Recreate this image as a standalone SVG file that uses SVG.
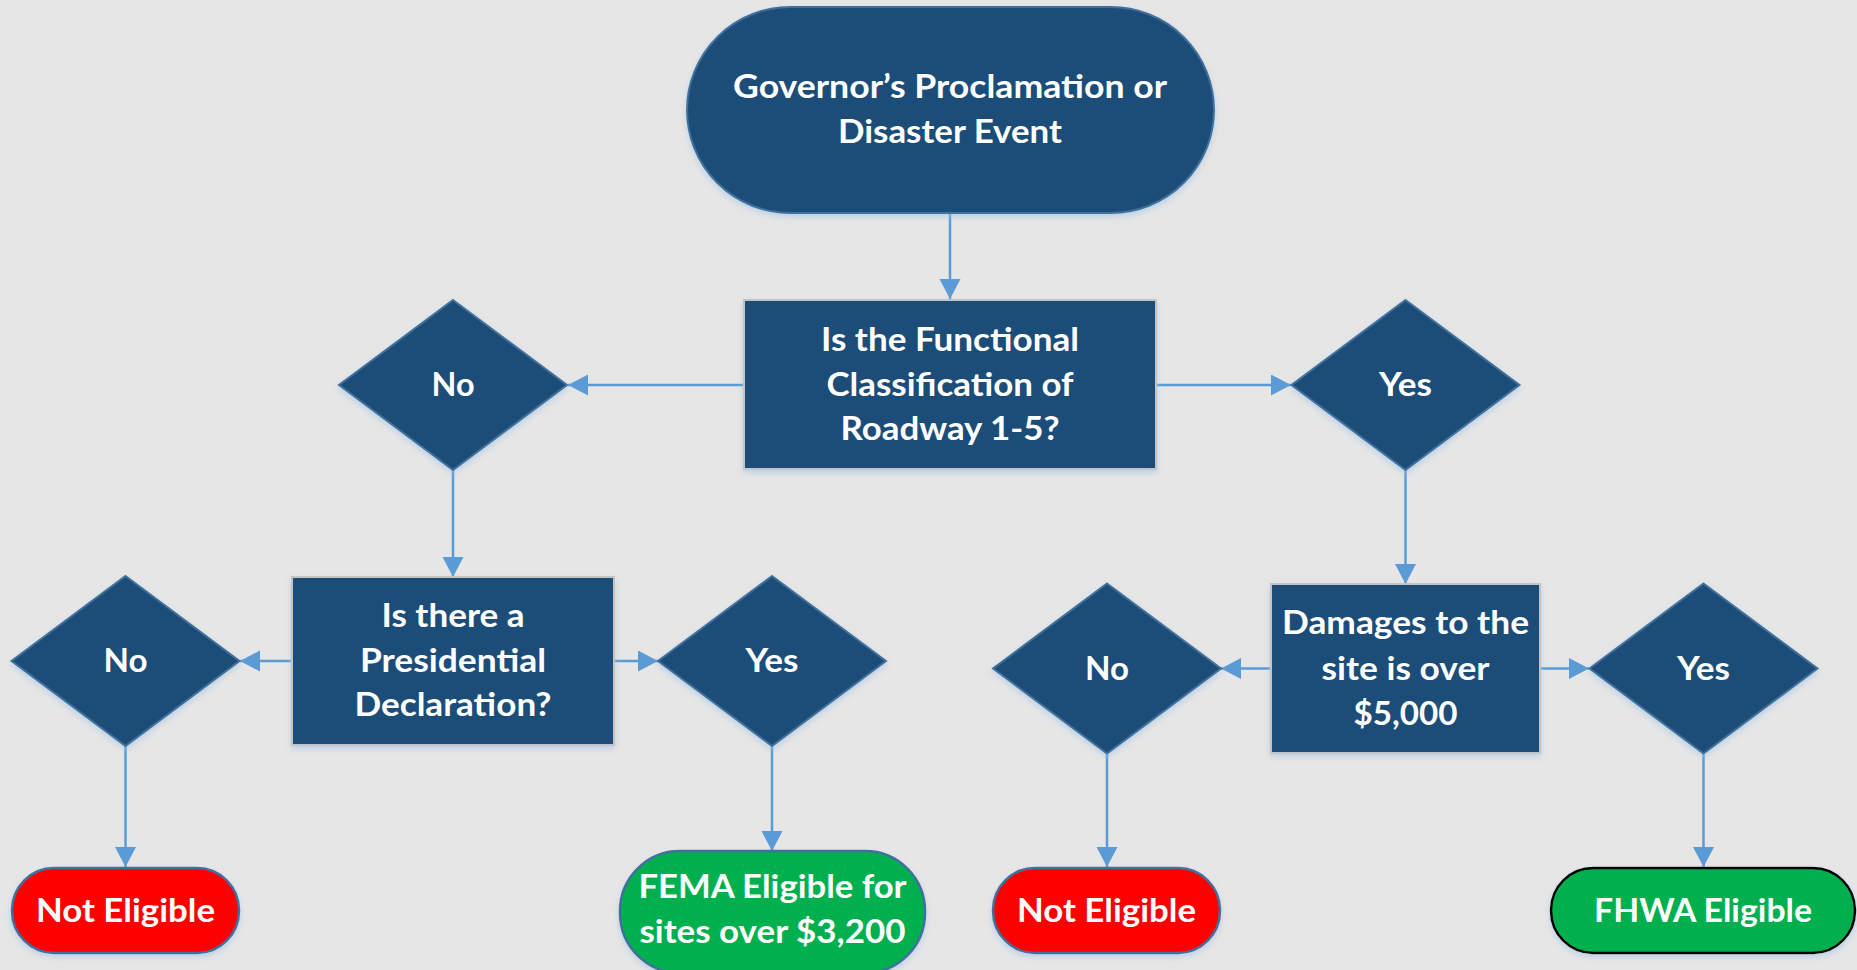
<svg xmlns="http://www.w3.org/2000/svg" width="1857" height="970" viewBox="0 0 1857 970">
<defs>
<style>
.node{fill:#1f4e79;stroke:#41719c;stroke-width:2;filter:url(#sh)}
.box{fill:#1f4e79;stroke:#c4c4c4;stroke-width:2;filter:url(#sh)}
.red{fill:#ff0000;stroke:#41719c;stroke-width:2.5;filter:url(#sh)}
.green{fill:#00b050;stroke:#41719c;stroke-width:2.5;filter:url(#sh)}
.greenb{fill:#00b050;stroke:#000;stroke-width:2.5;filter:url(#sh)}
.t{font-family:"Lato","Open Sans","Liberation Sans",sans-serif;font-weight:700;font-size:32px;fill:#fff;text-anchor:middle}
.c{stroke:#5b9bd5;stroke-width:2.5;fill:none;marker-end:url(#ah)}
</style>
<marker id="ah" markerUnits="userSpaceOnUse" markerWidth="22" markerHeight="22" refX="20" refY="10.5" orient="auto">
<path d="M0,0 L20,10.5 L0,21 Z" fill="#5b9bd5"/>
</marker>
<filter id="sh" x="-10%" y="-10%" width="120%" height="130%">
<feDropShadow dx="0" dy="3" stdDeviation="3" flood-color="#9dc3e6" flood-opacity="0.6"/>
</filter>
</defs>
<rect x="0" y="0" width="1857" height="970" fill="#e7e6e6"/>
<g id="connectors">
<line class="c" x1="950" y1="213" x2="950" y2="299"/>
<line class="c" x1="744" y1="385" x2="568" y2="385"/>
<line class="c" x1="1156" y1="385" x2="1291" y2="385"/>
<line class="c" x1="1405.5" y1="470" x2="1405.5" y2="584"/>
<line class="c" x1="453" y1="470" x2="453" y2="577"/>
<line class="c" x1="292" y1="661" x2="240" y2="661"/>
<line class="c" x1="614" y1="661" x2="658" y2="661"/>
<line class="c" x1="125.5" y1="746" x2="125.5" y2="867"/>
<line class="c" x1="772" y1="746" x2="772" y2="851"/>
<line class="c" x1="1271" y1="668.5" x2="1221" y2="668.5"/>
<line class="c" x1="1540" y1="668.5" x2="1589" y2="668.5"/>
<line class="c" x1="1107" y1="754" x2="1107" y2="867"/>
<line class="c" x1="1703.5" y1="754" x2="1703.5" y2="867"/>
</g>
<g id="start">
<rect class="node" x="687" y="7" width="527" height="206" rx="103" ry="103"/>
<text class="t" x="950" y="98" textLength="434" lengthAdjust="spacingAndGlyphs">Governor’s Proclamation or</text>
<text class="t" x="950" y="143" textLength="224" lengthAdjust="spacingAndGlyphs">Disaster Event</text>
</g>
<g id="q1">
<rect class="box" x="744" y="300" width="412" height="169"/>
<text class="t" x="950" y="351" textLength="258" lengthAdjust="spacingAndGlyphs">Is the Functional</text>
<text class="t" x="950" y="396" textLength="247" lengthAdjust="spacingAndGlyphs">Classification of</text>
<text class="t" x="950" y="440" textLength="219" lengthAdjust="spacingAndGlyphs">Roadway 1-5?</text>
</g>
<g id="no1">
<polygon class="node" points="453,300 567,385 453,470 339,385"/>
<text class="t" x="453" y="396" textLength="43" lengthAdjust="spacingAndGlyphs">No</text>
</g>
<g id="yes1">
<polygon class="node" points="1405.5,300 1519.5,385 1405.5,470 1291.5,385"/>
<text class="t" x="1405.5" y="396" textLength="53" lengthAdjust="spacingAndGlyphs">Yes</text>
</g>
<g id="q2">
<rect class="box" x="292" y="577" width="322" height="168"/>
<text class="t" x="453" y="627" textLength="143" lengthAdjust="spacingAndGlyphs">Is there a</text>
<text class="t" x="453" y="672" textLength="186" lengthAdjust="spacingAndGlyphs">Presidential</text>
<text class="t" x="453" y="716" textLength="197" lengthAdjust="spacingAndGlyphs">Declaration?</text>
</g>
<g id="no2">
<polygon class="node" points="125.5,576 239.5,661 125.5,746 11.5,661"/>
<text class="t" x="125.5" y="672" textLength="44" lengthAdjust="spacingAndGlyphs">No</text>
</g>
<g id="yes2">
<polygon class="node" points="772,576 886,661 772,746 658,661"/>
<text class="t" x="772" y="672" textLength="53" lengthAdjust="spacingAndGlyphs">Yes</text>
</g>
<g id="notEligible1">
<rect class="red" x="12" y="868" width="227" height="85" rx="42" ry="42"/>
<text class="t" x="125.5" y="922" textLength="179" lengthAdjust="spacingAndGlyphs">Not Eligible</text>
</g>
<g id="fema">
<rect class="green" x="620" y="851" width="305" height="122" rx="60" ry="60"/>
<text class="t" x="772.5" y="898" textLength="268" lengthAdjust="spacingAndGlyphs">FEMA Eligible for</text>
<text class="t" x="772.5" y="943" textLength="266" lengthAdjust="spacingAndGlyphs">sites over $3,200</text>
</g>
<g id="q3">
<rect class="box" x="1271" y="584" width="269" height="169"/>
<text class="t" x="1405.5" y="634" textLength="247" lengthAdjust="spacingAndGlyphs">Damages to the</text>
<text class="t" x="1405.5" y="680" textLength="168" lengthAdjust="spacingAndGlyphs">site is over</text>
<text class="t" x="1405.5" y="725" textLength="104" lengthAdjust="spacingAndGlyphs">$5,000</text>
</g>
<g id="no3">
<polygon class="node" points="1107,583.5 1221,668.5 1107,753.5 993,668.5"/>
<text class="t" x="1107" y="680" textLength="44" lengthAdjust="spacingAndGlyphs">No</text>
</g>
<g id="yes3">
<polygon class="node" points="1703.5,583.5 1817.5,668.5 1703.5,753.5 1589.5,668.5"/>
<text class="t" x="1703.5" y="680" textLength="53" lengthAdjust="spacingAndGlyphs">Yes</text>
</g>
<g id="notEligible2">
<rect class="red" x="993" y="868" width="227" height="85" rx="42" ry="42"/>
<text class="t" x="1106.5" y="922" textLength="179" lengthAdjust="spacingAndGlyphs">Not Eligible</text>
</g>
<g id="fhwa">
<rect class="greenb" x="1551" y="868" width="304" height="85" rx="42" ry="42"/>
<text class="t" x="1703" y="922" textLength="218" lengthAdjust="spacingAndGlyphs">FHWA Eligible</text>
</g>
</svg>
